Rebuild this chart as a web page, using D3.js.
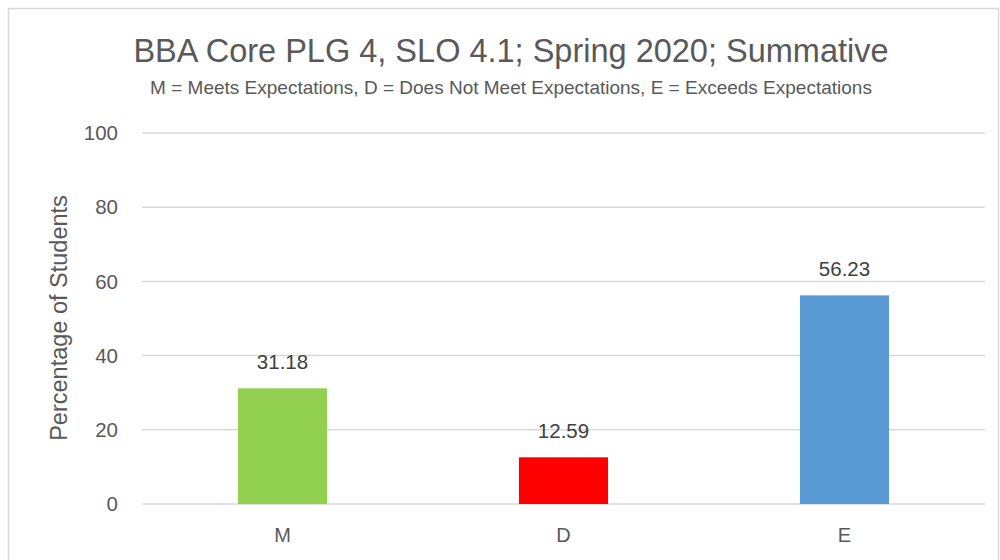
<!DOCTYPE html>
<html>
<head>
<meta charset="utf-8">
<script src="https://cdn.jsdelivr.net/npm/d3@7"></script>
<style>
  body { margin: 0; background: #fff; }
  svg { display: block; }
  text { font-family: "Liberation Sans", "DejaVu Sans", sans-serif; }
</style>
</head>
<body>
<div id="chart"></div>
<script>
// data
const categories = ["M", "D", "E"];
const values = [31.18, 12.59, 56.23];
const barColors = ["#92D050", "#FF0000", "#5B9BD5"];
const yTicks = [0, 20, 40, 60, 80, 100];

const width = 1000, height = 560;
const plot = { left: 142, right: 985, top: 133, bottom: 504 };

const svg = d3.select("#chart").append("svg")
  .attr("width", width)
  .attr("height", height);

// chart frame
svg.append("rect")
  .attr("x", 8.5).attr("y", 8.5)
  .attr("width", 990).attr("height", 570)
  .attr("fill", "#fff")
  .attr("stroke", "#d9d9d9")
  .attr("stroke-width", 1.5);

const x = d3.scaleBand()
  .domain(categories)
  .range([plot.left, plot.right])
  .paddingInner(0.683)
  .paddingOuter(0.3415);

const y = d3.scaleLinear().domain([0, 100]).range([plot.bottom, plot.top]);

// gridlines
svg.append("g")
  .selectAll("line")
  .data(yTicks)
  .enter()
  .append("line")
  .attr("x1", plot.left).attr("x2", plot.right)
  .attr("y1", d => y(d)).attr("y2", d => y(d))
  .attr("stroke", "#d9d9d9")
  .attr("stroke-width", 1.5);

// y tick labels
svg.append("g")
  .selectAll("text")
  .data(yTicks)
  .enter()
  .append("text")
  .attr("x", 118)
  .attr("y", d => y(d))
  .attr("dy", "0.35em")
  .attr("text-anchor", "end")
  .style("font-size", "20.5px")
  .attr("fill", "#595959")
  .text(d => d);

// bars
svg.append("g")
  .selectAll("rect")
  .data(values)
  .enter()
  .append("rect")
  .attr("x", (d, i) => x(categories[i]))
  .attr("y", d => y(d))
  .attr("width", x.bandwidth())
  .attr("height", d => y(0) - y(d))
  .attr("fill", (d, i) => barColors[i]);

// value labels
svg.append("g")
  .selectAll("text")
  .data(values)
  .enter()
  .append("text")
  .attr("x", (d, i) => x(categories[i]) + x.bandwidth() / 2)
  .attr("y", d => y(d) - 19)
  .attr("text-anchor", "middle")
  .style("font-size", "20.5px")
  .attr("fill", "#404040")
  .text(d => d.toFixed(2));

// category labels
svg.append("g")
  .selectAll("text")
  .data(categories)
  .enter()
  .append("text")
  .attr("x", d => x(d) + x.bandwidth() / 2)
  .attr("y", 542)
  .attr("text-anchor", "middle")
  .style("font-size", "20px")
  .attr("fill", "#595959")
  .text(d => d);

// axis title
svg.append("text")
  .attr("transform", "translate(67,318) rotate(-90)")
  .attr("text-anchor", "middle")
  .style("font-size", "23.5px")
  .attr("fill", "#595959")
  .text("Percentage of Students");

// titles
svg.append("text")
  .attr("x", 511).attr("y", 62)
  .attr("text-anchor", "middle")
  .style("font-size", "32.5px")
  .attr("fill", "#595959")
  .text("BBA Core PLG 4, SLO 4.1; Spring 2020; Summative");

svg.append("text")
  .attr("x", 511).attr("y", 94)
  .attr("text-anchor", "middle")
  .style("font-size", "19px")
  .attr("fill", "#595959")
  .text("M = Meets Expectations, D = Does Not Meet Expectations, E = Exceeds Expectations");
</script>
</body>
</html>
